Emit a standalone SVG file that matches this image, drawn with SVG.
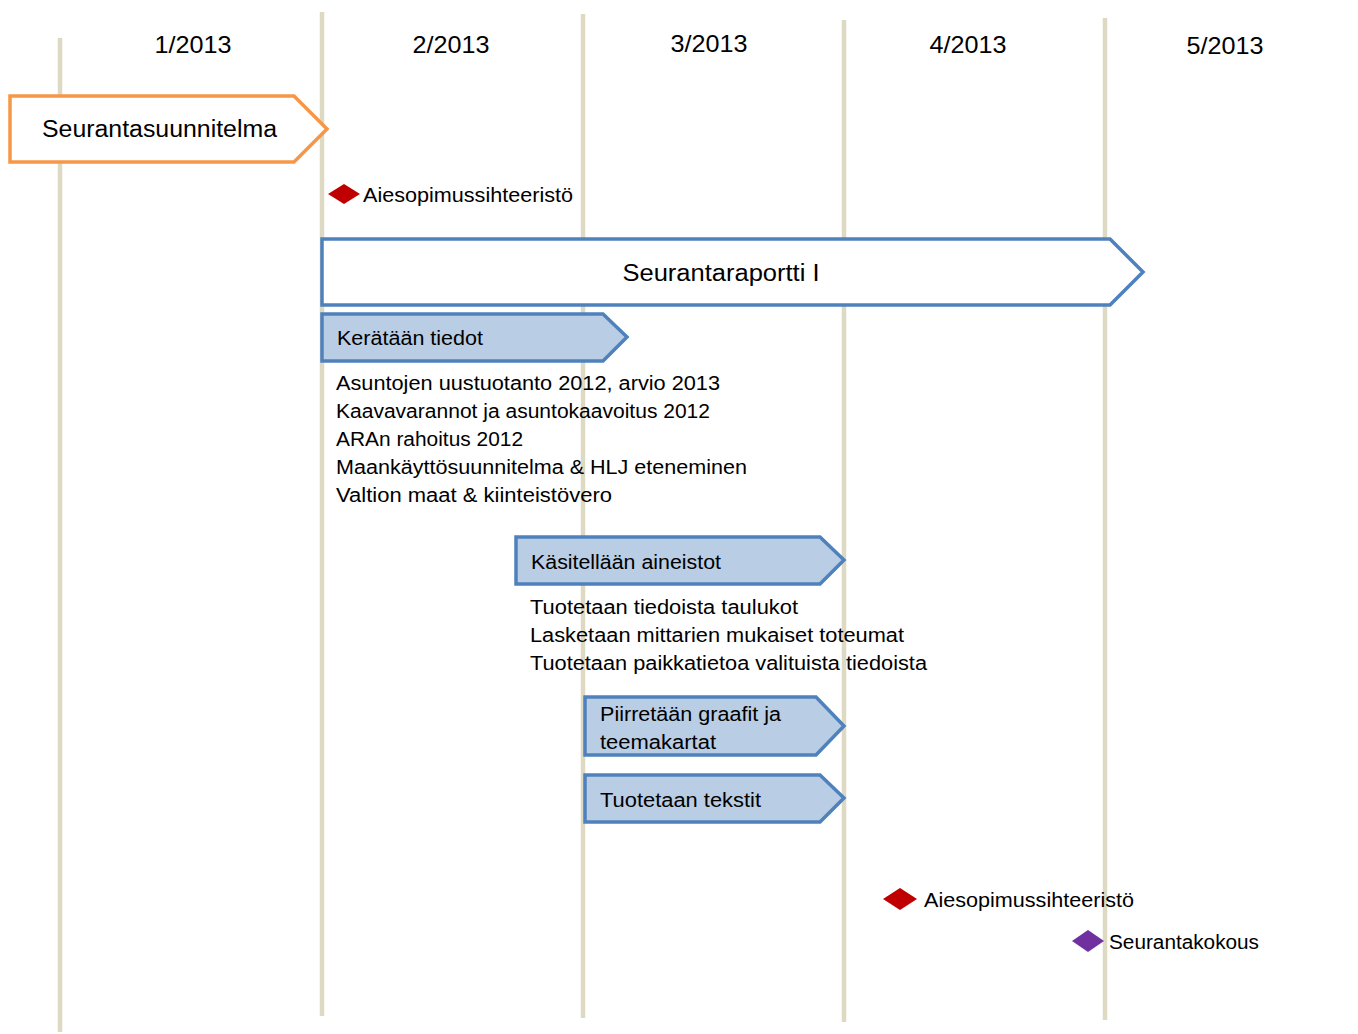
<svg xmlns="http://www.w3.org/2000/svg" width="1358" height="1034" viewBox="0 0 1358 1034">
<style>
.grid{stroke:#ddd9c3;stroke-width:4.5;fill:none}
text{font-family:"Liberation Sans",Arial,sans-serif;fill:#000}
.hdr{font-size:24px;text-anchor:middle}
.big{font-size:23px}
.t{font-size:19.5px}
.orange{fill:#fff;stroke:#f79646;stroke-width:3.5}
.blueOut{fill:#fff;stroke:#4f81bd;stroke-width:3.5}
.blue{fill:#b9cde5;stroke:#4f81bd;stroke-width:3.5}
.red{fill:#c00000}
.purple{fill:#7030a0}
</style>
<rect width="1358" height="1034" fill="#fff"/>
<g id="grid">
<line class="grid" x1="60" y1="38" x2="60" y2="1032"/>
<line class="grid" x1="322" y1="12" x2="322" y2="1016"/>
<line class="grid" x1="583" y1="14" x2="583" y2="1018"/>
<line class="grid" x1="844" y1="20" x2="844" y2="1022"/>
<line class="grid" x1="1105" y1="18" x2="1105" y2="1020"/>
</g>
<g id="headers">
<text class="hdr" x="193" y="53" textLength="77" lengthAdjust="spacingAndGlyphs">1/2013</text>
<text class="hdr" x="451" y="53" textLength="77" lengthAdjust="spacingAndGlyphs">2/2013</text>
<text class="hdr" x="709" y="52" textLength="77" lengthAdjust="spacingAndGlyphs">3/2013</text>
<text class="hdr" x="968" y="53" textLength="77" lengthAdjust="spacingAndGlyphs">4/2013</text>
<text class="hdr" x="1225" y="54" textLength="77" lengthAdjust="spacingAndGlyphs">5/2013</text>
</g>
<g id="seurantasuunnitelma">
<polygon class="orange" points="10,96 294,96 327,129 294,162 10,162"/>
<text class="big" x="42" y="137" textLength="235" lengthAdjust="spacingAndGlyphs">Seurantasuunnitelma</text>
</g>
<g id="milestone1">
<polygon class="red" points="328,194 344,184 360,194 344,204"/>
<text class="t" x="363" y="202" textLength="210" lengthAdjust="spacingAndGlyphs">Aiesopimussihteeristö</text>
</g>
<g id="seurantaraportti">
<polygon class="blueOut" points="322,239 1110,239 1143,272 1110,305 322,305"/>
<text class="big" x="721" y="281" text-anchor="middle" textLength="197" lengthAdjust="spacingAndGlyphs">Seurantaraportti I</text>
</g>
<g id="keratan">
<polygon class="blue" points="322,314 603,314 627,337 603,361 322,361"/>
<text class="t" x="337" y="345" textLength="146" lengthAdjust="spacingAndGlyphs">Kerätään tiedot</text>
</g>
<g id="list1">
<text class="t" x="336" y="390" textLength="384" lengthAdjust="spacingAndGlyphs">Asuntojen uustuotanto 2012, arvio 2013</text>
<text class="t" x="336" y="418" textLength="374" lengthAdjust="spacingAndGlyphs">Kaavavarannot ja asuntokaavoitus 2012</text>
<text class="t" x="336" y="446" textLength="187" lengthAdjust="spacingAndGlyphs">ARAn rahoitus 2012</text>
<text class="t" x="336" y="474" textLength="411" lengthAdjust="spacingAndGlyphs">Maankäyttösuunnitelma &amp; HLJ eteneminen</text>
<text class="t" x="336" y="502" textLength="276" lengthAdjust="spacingAndGlyphs">Valtion maat &amp; kiinteistövero</text>
</g>
<g id="kasitellaan">
<polygon class="blue" points="516,537 820,537 844,560 820,584 516,584"/>
<text class="t" x="531" y="569" textLength="190" lengthAdjust="spacingAndGlyphs">Käsitellään aineistot</text>
</g>
<g id="list2">
<text class="t" x="530" y="614" textLength="268" lengthAdjust="spacingAndGlyphs">Tuotetaan tiedoista taulukot</text>
<text class="t" x="530" y="642" textLength="374" lengthAdjust="spacingAndGlyphs">Lasketaan mittarien mukaiset toteumat</text>
<text class="t" x="530" y="670" textLength="397" lengthAdjust="spacingAndGlyphs">Tuotetaan paikkatietoa valituista tiedoista</text>
</g>
<g id="piirretaan">
<polygon class="blue" points="585,697 816,697 844,726 816,755 585,755"/>
<text class="t" x="600" y="721" textLength="181" lengthAdjust="spacingAndGlyphs">Piirretään graafit ja</text>
<text class="t" x="600" y="749" textLength="116" lengthAdjust="spacingAndGlyphs">teemakartat</text>
</g>
<g id="tuotetaan">
<polygon class="blue" points="585,775 820,775 844,798 820,822 585,822"/>
<text class="t" x="600" y="807" textLength="161" lengthAdjust="spacingAndGlyphs">Tuotetaan tekstit</text>
</g>
<g id="milestone2">
<polygon class="red" points="883,899 900,888 917,899 900,910"/>
<text class="t" x="924" y="907" textLength="210" lengthAdjust="spacingAndGlyphs">Aiesopimussihteeristö</text>
</g>
<g id="milestone3">
<polygon class="purple" points="1072,941 1088,930 1104,941 1088,952"/>
<text class="t" x="1109" y="949" textLength="150" lengthAdjust="spacingAndGlyphs">Seurantakokous</text>
</g>
<g id="connectors"></g>
</svg>
